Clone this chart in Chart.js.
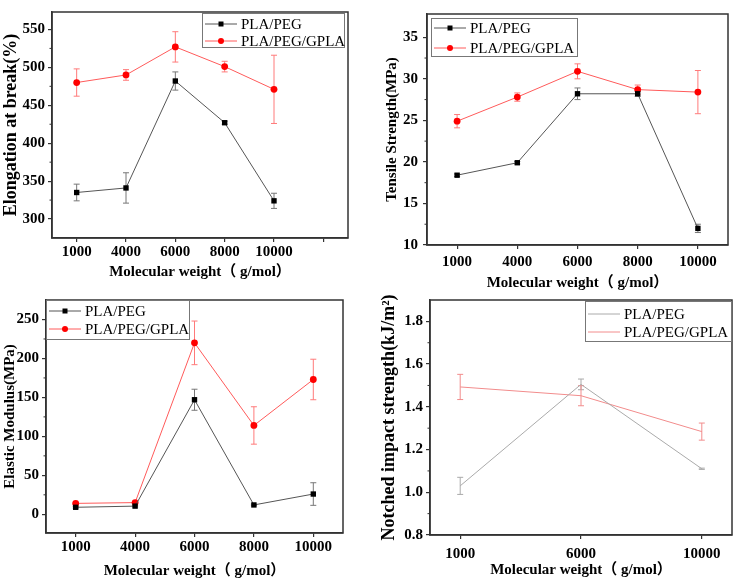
<!DOCTYPE html>
<html>
<head>
<meta charset="utf-8">
<script src="https://cdn.jsdelivr.net/npm/chart.js@4/dist/chart.umd.min.js"></script>
<style>
    body { margin: 0; background: #fff; }
    #wrap { position: relative; width: 734px; height: 580px; overflow: hidden; }
    canvas { position: absolute; }
</style>
</head>
<body>
<div id="wrap">
    <canvas id="chartElong" width="368" height="285" style="left:0;top:0"></canvas>
    <canvas id="chartTensile" width="364" height="295" style="left:370px;top:0"></canvas>
    <canvas id="chartModulus" width="368" height="292" style="left:0;top:288px"></canvas>
    <canvas id="chartImpact" width="364" height="292" style="left:370px;top:288px"></canvas>
</div>
<script>
//DADOS
const weights5 = ['1000', '4000', '6000', '8000', '10000'];
const weights3 = ['1000', '6000', '10000'];

const elongPeg = [335, 341, 482, 427, 324];
const elongPegErr = [11, 20, 12, 2, 10];
const elongGpla = [480, 490, 527, 501, 471];
const elongGplaErr = [18, 7, 20, 7, 45];
const elongTicks = [300, 350, 400, 450, 500, 550];

const tensilePeg = [18.4, 19.9, 28.2, 28.2, 12.0];
const tensilePegErr = [0.15, 0.15, 0.7, 0.3, 0.5];
const tensileGpla = [24.9, 27.8, 30.9, 28.7, 28.4];
const tensileGplaErr = [0.8, 0.5, 0.9, 0.55, 2.6];
const tensileTicks = [10, 15, 20, 25, 30, 35];

const modulusPeg = [9, 10.5, 147, 12, 26];
const modulusPegErr = [1, 1, 13.5, 1, 14.5];
const modulusGpla = [14, 15, 220, 114, 173];
const modulusGplaErr = [1, 1, 28, 24, 26];
const modulusTicks = [0, 50, 100, 150, 200, 250];

const impactPeg = [1.03, 1.505, 1.11];
const impactPegErr = [0.04, 0.025, 0.003];
const impactGpla = [1.493, 1.452, 1.284];
const impactGplaErr = [0.059, 0.047, 0.04];
const impactTicks = [0.8, 1.0, 1.2, 1.4, 1.6, 1.8];

const SERIF = "'Liberation Serif', 'Noto Sans CJK SC', serif";
const AXIS = '#333';

const toPoints = (vals) => vals.map((v, i) => ({ x: i + 1, y: v }));

//PLUGINS
const errorBars = {
    id: 'errorBars',
    beforeDatasetsDraw: (chart) => {
        const { ctx, scales } = chart;
        chart.data.datasets.forEach(ds => {
            if (!ds.errors) return;
            ctx.save();
            ctx.strokeStyle = ds.errColor;
            ctx.lineWidth = 1;
            ds.data.forEach((p, i) => {
                const x = scales.x.getPixelForValue(p.x);
                const yTop = scales.y.getPixelForValue(p.y + ds.errors[i]);
                const yBot = scales.y.getPixelForValue(p.y - ds.errors[i]);
                ctx.beginPath();
                ctx.moveTo(x, yTop); ctx.lineTo(x, yBot);
                ctx.moveTo(x - 3, yTop); ctx.lineTo(x + 3, yTop);
                ctx.moveTo(x - 3, yBot); ctx.lineTo(x + 3, yBot);
                ctx.stroke();
            });
            ctx.restore();
        });
    }
};

const frame = {
    id: 'frame',
    afterDraw: (chart, args, opts) => {
        const { ctx, chartArea: a, scales } = chart;
        ctx.save();
        ctx.strokeStyle = AXIS;
        ctx.lineWidth = 1.5;
        ctx.strokeRect(a.left, a.top, a.right - a.left, a.bottom - a.top);
        // ticks menores no eixo y
        const ticks = scales.y.ticks.map(t => t.value);
        ctx.lineWidth = 1;
        for (let i = 0; i < ticks.length - 1; i++) {
            const y = scales.y.getPixelForValue((ticks[i] + ticks[i + 1]) / 2);
            ctx.beginPath();
            ctx.moveTo(a.left - 2.5, y); ctx.lineTo(a.left, y);
            ctx.stroke();
        }
        // legenda
        const lg = opts.legend;
        const bx = lg.side === 'right' ? a.right - lg.dx - lg.w : a.left + lg.dx;
        const by = a.top + lg.dy;
        ctx.fillStyle = '#fff';
        ctx.fillRect(bx, by, lg.w, lg.h);
        ctx.strokeStyle = '#777';
        ctx.lineWidth = 1;
        ctx.strokeRect(bx + 0.5, by + 0.5, lg.w, lg.h);
        ctx.font = '15px ' + SERIF;
        ctx.textBaseline = 'middle';
        chart.data.datasets.forEach((ds, i) => {
            const y = by + lg.rows[i];
            ctx.strokeStyle = ds.borderColor;
            ctx.lineWidth = ds.borderWidth;
            ctx.beginPath();
            ctx.moveTo(bx + 3, y); ctx.lineTo(bx + 35, y);
            ctx.stroke();
            if (ds.pointRadius > 0) {
                ctx.fillStyle = ds.pointBackgroundColor;
                ctx.beginPath();
                if (ds.pointStyle === 'rect') ctx.rect(bx + 19 - 2.5, y - 2.5, 5, 5);
                else ctx.arc(bx + 19, y, 3, 0, Math.PI * 2);
                ctx.fill();
            }
            ctx.fillStyle = '#000';
            ctx.fillText(ds.label, bx + 39, y + 1);
        });
        ctx.restore();
    }
};

//FABRICA DE GRAFICOS
const buildChart = (id, p) => {
    const series = [
        { label: 'PLA/PEG', vals: p.peg, errs: p.pegErr, line: p.light ? '#aaa' : '#555', point: '#000', err: p.light ? '#aaa' : '#777', style: 'rect', radius: 3.8 },
        { label: 'PLA/PEG/GPLA', vals: p.gpla, errs: p.gplaErr, line: p.light ? '#f28c8c' : '#ff5a5a', point: '#ff0000', err: p.light ? '#f28c8c' : '#ff7a7a', style: 'circle', radius: 3.4 }
    ];
    return new Chart(document.getElementById(id), {
        type: 'line',
        data: {
            datasets: series.map(s => ({
                label: s.label,
                data: toPoints(s.vals),
                errors: s.errs,
                errColor: s.err,
                borderColor: s.line,
                borderWidth: 1,
                pointStyle: s.style,
                pointRadius: p.light ? 0 : s.radius,
                pointBackgroundColor: s.point,
                pointBorderColor: s.point,
                pointBorderWidth: 0
            }))
        },
        options: {
            responsive: false,
            animation: false,
            devicePixelRatio: 1,
            layout: { padding: p.pad },
            plugins: {
                legend: { display: false },
                tooltip: { enabled: false },
                frame: { legend: p.legend }
            },
            scales: {
                x: {
                    type: 'linear',
                    min: p.xMin,
                    max: p.xMax,
                    afterBuildTicks: (scale) => {
                        scale.ticks = p.xTicks.map(v => ({ value: v }));
                    },
                    afterFit: (scale) => { scale.height = p.xH; },
                    grid: { drawOnChartArea: false, drawTicks: true, tickLength: 4, color: AXIS, lineWidth: 1.2 },
                    border: { display: true, color: AXIS, width: 1.5 },
                    ticks: {
                        padding: p.xTickPad,
                        color: '#000',
                        font: { family: SERIF, weight: 'bold', size: p.tickSize },
                        callback: (v) => p.labels[v - 1] || ''
                    },
                    title: {
                        display: true,
                        text: 'Molecular weight（ g/mol）',
                        color: '#000',
                        padding: 0,
                        font: { family: SERIF, weight: 'bold', size: 15 }
                    }
                },
                y: {
                    min: p.yMin,
                    max: p.yMax,
                    afterBuildTicks: (scale) => {
                        scale.ticks = p.yTicks.map(v => ({ value: v }));
                    },
                    afterFit: (scale) => { scale.width = p.yW; },
                    grid: { drawOnChartArea: false, drawTicks: true, tickLength: 4, color: AXIS, lineWidth: 1.2 },
                    border: { display: true, color: AXIS, width: 1.5 },
                    ticks: {
                        padding: p.yTickPad,
                        color: '#000',
                        font: { family: SERIF, weight: 'bold', size: p.tickSize },
                        callback: p.yFmt || ((v) => v)
                    },
                    title: {
                        display: true,
                        text: p.yTitle,
                        color: '#000',
                        padding: { top: p.yTitlePad, bottom: 0 },
                        font: { family: SERIF, weight: 'bold', size: p.yTitleSize }
                    }
                }
            }
        },
        plugins: [errorBars, frame]
    });
};

buildChart('chartElong', {
    peg: elongPeg, pegErr: elongPegErr, gpla: elongGpla, gplaErr: elongGplaErr,
    labels: weights5, xMin: 0.5, xMax: 6.5, xTicks: [1, 2, 3, 4, 5, 6],
    yMin: 275, yMax: 573, yTicks: elongTicks,
    yTitle: 'Elongation at break(%)', yTitleSize: 18, yTitlePad: 1,
    pad: { left: 0, right: 20, top: 3, bottom: 4 }, yW: 52, xH: 43,
    tickSize: 15, xTickPad: 1, yTickPad: 3,
    legend: { side: 'right', dx: 4, dy: 1, w: 142, h: 34, rows: [11, 28] }
});

buildChart('chartTensile', {
    peg: tensilePeg, pegErr: tensilePegErr, gpla: tensileGpla, gplaErr: tensileGplaErr,
    labels: weights5, xMin: 0.5, xMax: 5.5, xTicks: [1, 2, 3, 4, 5],
    yMin: 10, yMax: 37.8, yTicks: tensileTicks,
    yTitle: 'Tensile Strength(MPa)', yTitleSize: 15, yTitlePad: 13,
    pad: { left: 0, right: 6, top: 3, bottom: 3 }, yW: 57, xH: 47,
    tickSize: 15, xTickPad: 4, yTickPad: 5,
    legend: { side: 'left', dx: 4, dy: 4, w: 146, h: 38, rows: [10, 30] }
});

buildChart('chartModulus', {
    peg: modulusPeg, pegErr: modulusPegErr, gpla: modulusGpla, gplaErr: modulusGplaErr,
    labels: weights5, xMin: 0.5, xMax: 5.5, xTicks: [1, 2, 3, 4, 5],
    yMin: -24, yMax: 275, yTicks: modulusTicks,
    yTitle: 'Elastic Modulus(MPa)', yTitleSize: 15, yTitlePad: 1,
    pad: { left: 0, right: 25, top: 10, bottom: 0 }, yW: 46, xH: 47,
    tickSize: 15, xTickPad: 1, yTickPad: 3,
    legend: { side: 'left', dx: 0, dy: 0, w: 143, h: 39, rows: [11, 29] }
});

buildChart('chartImpact', {
    peg: impactPeg, pegErr: impactPegErr, gpla: impactGpla, gplaErr: impactGplaErr,
    labels: weights3, xMin: 0.75, xMax: 3.25, xTicks: [1, 2, 3],
    yMin: 0.8, yMax: 1.9, yTicks: impactTicks, yFmt: (v) => v.toFixed(1),
    yTitle: 'Notched impact strength(kJ/m²)', yTitleSize: 18, yTitlePad: 9,
    pad: { left: 0, right: 2, top: 4, bottom: 1 }, yW: 60, xH: 44,
    tickSize: 15, xTickPad: 6, yTickPad: 3,
    light: true,
    legend: { side: 'right', dx: 1, dy: 1, w: 146, h: 40, rows: [13, 31] }
});
</script>
</body>
</html>
